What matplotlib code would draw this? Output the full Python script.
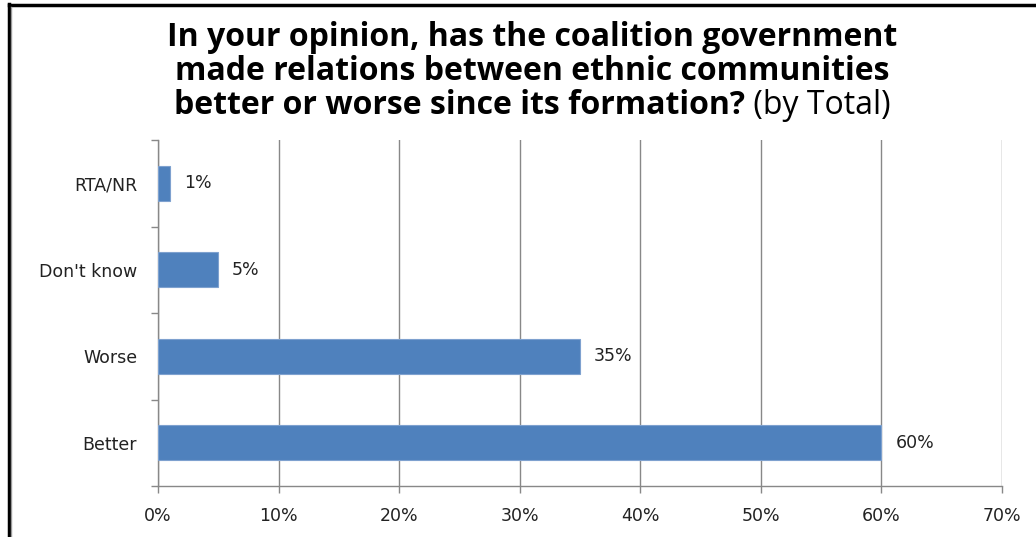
import numpy as np
import matplotlib.pyplot as plt
from matplotlib.lines import Line2D
from matplotlib.ticker import FixedLocator

# survey answers, bottom to top
categories = ['Better', 'Worse', "Don't know", 'RTA/NR']
shares = [60, 35, 5, 1]
x_ticks = [0, 10, 20, 30, 40, 50, 60, 70]
x_tick_labels = ['%d%%' % t for t in x_ticks]

title_bold = ['In your opinion, has the coalition government',
              'made relations between ethnic communities',
              'better or worse since its formation?']
title_tail = ' (by Total)'

bar_color = '#4F81BD'
axis_gray = '#888888'
label_font = dict(family='DejaVu Sans', fontsize=12.5, color='#222222')

fig = plt.figure(figsize=(10.36, 5.37), dpi=100)
fig.patch.set_facecolor('white')

ax = fig.add_axes([158 / 1036, 1 - 486 / 537, (1002 - 158) / 1036, (486 - 140) / 537])

ypos = np.arange(len(categories))
ax.barh(ypos, shares, height=0.4, color=bar_color, edgecolor='#7EA1CF', linewidth=0.8, zorder=3)

for y, v in zip(ypos, shares):
    ax.annotate('%d%%' % v, xy=(v, y), xytext=(10, 0), textcoords='offset points',
                ha='left', va='center', **label_font)

ax.set_xlim(0, 70)
ax.set_ylim(-0.5, len(categories) - 0.5)

ax.set_xticks(x_ticks)
ax.set_xticklabels(x_tick_labels, **label_font)
ax.tick_params(axis='x', length=5, color=axis_gray, pad=10, width=1)

# category names sit between boundary ticks
ax.set_yticks(ypos)
ax.set_yticklabels(categories, **label_font)
ax.tick_params(axis='y', which='major', length=0, pad=15)
ax.yaxis.set_minor_locator(FixedLocator(np.arange(-0.5, len(categories), 1.0)))
ax.tick_params(axis='y', which='minor', length=5, color=axis_gray, width=1)

ax.grid(axis='x', color=axis_gray, linewidth=1, zorder=0)
for side in ['top', 'right']:
    ax.spines[side].set_visible(False)
for side in ['left', 'bottom']:
    ax.spines[side].set_color(axis_gray)
    ax.spines[side].set_linewidth(1)

# title: three bold lines, last one ends in plain text
title_font = dict(family='Open Sans', fontsize=23, color='black')
cx = 532 / 1036
line_y = [37, 72, 106]
for text, y in zip(title_bold[:2], line_y[:2]):
    fig.text(cx, 1 - y / 537, text, ha='center', va='center', weight='bold', **title_font)

renderer = fig.canvas.get_renderer()
t1 = fig.text(0, 1 - line_y[2] / 537, title_bold[2], ha='left', va='center',
              weight='bold', **title_font)
t2 = fig.text(0, 1 - line_y[2] / 537, title_tail, ha='left', va='center',
              weight='normal', **title_font)
w1 = t1.get_window_extent(renderer).width / fig.bbox.width
w2 = t2.get_window_extent(renderer).width / fig.bbox.width
x0 = cx - (w1 + w2) / 2
t1.set_x(x0)
t2.set_x(x0 + w1)

# frame edges along the top and left
fig.add_artist(Line2D([8.5 / 1036, 8.5 / 1036], [0, 1 - 4 / 537], color='black', linewidth=2.5))
fig.add_artist(Line2D([8.5 / 1036, 1], [1 - 5 / 537, 1 - 5 / 537], color='black', linewidth=2.5))
fig.add_artist(Line2D([10.8 / 1036, 10.8 / 1036], [0, 1 - 6.5 / 537], color='#999999', linewidth=1))

fig.savefig('out.png', dpi=100, facecolor='white')
